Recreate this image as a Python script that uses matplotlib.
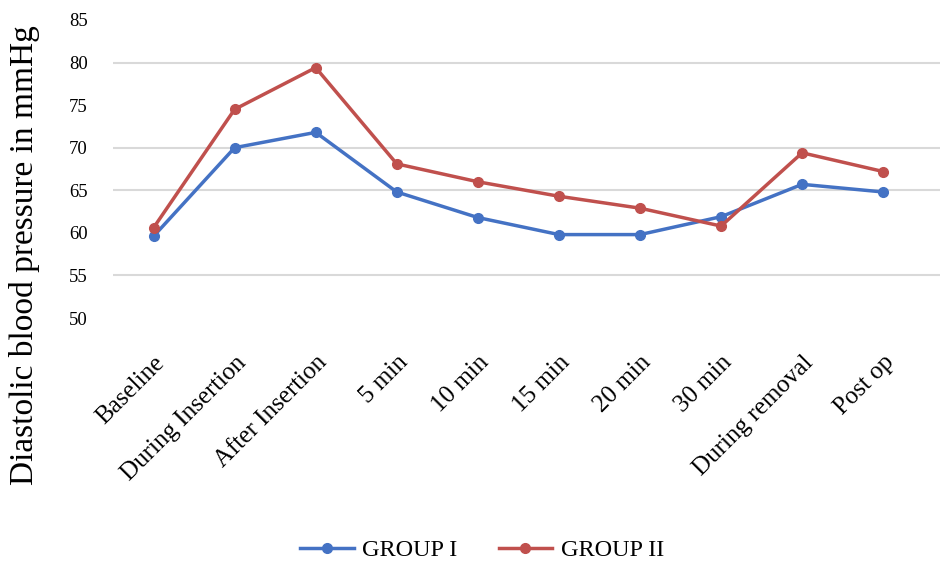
import matplotlib
matplotlib.use("Agg")
import matplotlib.pyplot as plt

categories = ["Baseline", "During Insertion", "After Insertion", "5 min", "10 min",
              "15 min", "20 min", "30 min", "During removal", "Post op"]
group1 = [59.6, 70.0, 71.8, 64.8, 61.8, 59.8, 59.8, 61.9, 65.7, 64.8]
group2 = [60.6, 74.5, 79.4, 68.1, 66.0, 64.3, 62.9, 60.8, 69.4, 67.2]
yticks = [50, 55, 60, 65, 70, 75, 80, 85]
grid_levels = [55, 65, 70, 80]

plt.rcParams['font.family'] = ['Liberation Serif', 'DejaVu Serif']

fig = plt.figure(figsize=(9.43, 5.69), dpi=100)
ax = fig.add_axes([113 / 943, 0.441, 827 / 943, 0.524])

x = list(range(len(categories)))
ax.plot(x, group1, color="#4472C4", lw=2.5, marker="o", ms=7, label="GROUP I", zorder=3)
ax.plot(x, group2, color="#C0504D", lw=2.5, marker="o", ms=7, label="GROUP II", zorder=3)

ax.set_xlim(-0.5, len(categories) - 0.3)
ax.set_ylim(50, 85)
ax.set_yticks(yticks)
ax.set_yticklabels([str(v) for v in yticks], fontsize=13.5)
ax.set_xticks(x)
ax.set_xticklabels(categories, rotation=45, ha="right", rotation_mode="anchor", fontsize=18)
ax.tick_params(axis="y", length=0, pad=18)
ax.tick_params(axis="x", length=0, pad=24)
for g in grid_levels:
    ax.axhline(g, color="#d9d9d9", lw=1.5, zorder=1)
for s in ax.spines.values():
    s.set_visible(False)
fig.text(25 / 943, 1 - 255 / 569, "Diastolic blood pressure in mmHg", rotation=90,
         ha="center", va="center", fontsize=24)

fig.legend(loc="center", bbox_to_anchor=(482 / 943, 19 / 569), ncol=2, frameon=False,
           fontsize=17.5, handlelength=2.2, columnspacing=1.7, handletextpad=0.35)

fig.savefig("out.png", dpi=100)
